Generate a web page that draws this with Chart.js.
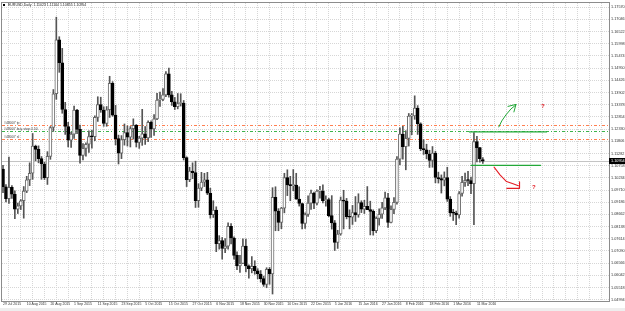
<!DOCTYPE html>
<html><head><meta charset="utf-8">
<script src="https://cdn.jsdelivr.net/npm/chart.js@4.4.0/dist/chart.umd.min.js"></script>
<style>html,body{margin:0;padding:0;background:#fff;overflow:hidden}#wrap{position:relative;width:625px;height:311px}</style>
</head><body><div id="wrap"><canvas id="c"></canvas></div>
<script>
// ---- data (EURUSD, Daily, 29 Jul 2015 .. 15 Mar 2016) ----
const symbolTitle = 'EURUSD,Daily';
const tickLabels = ['29 Jul 2015','10 Aug 2015','20 Aug 2015','1 Sep 2015','11 Sep 2015','23 Sep 2015','5 Oct 2015','15 Oct 2015','27 Oct 2015','6 Nov 2015','18 Nov 2015','30 Nov 2015','10 Dec 2015','22 Dec 2015','5 Jan 2016','15 Jan 2016','27 Jan 2016','8 Feb 2016','18 Feb 2016','1 Mar 2016','11 Mar 2016'];
const barsPerLabel = 8;
const priceTicks = [1.17570,1.17046,1.16522,1.15998,1.15474,1.14950,1.14426,1.13902,1.13378,1.12854,1.12330,1.11806,1.11282,1.10758,1.10234,1.09710,1.09186,1.08662,1.08138,1.07614,1.07090,1.06566,1.06042,1.05518,1.04994];

const open = [1.1061,1.0985,1.0934,1.0983,1.0953,1.0889,1.0903,1.0925,1.0966,1.1015,1.1043,1.1160,1.1146,1.1106,1.1083,1.1024,1.1116,1.1240,1.1385,1.1617,
1.1518,1.1317,1.1244,1.1185,1.1211,1.1315,1.1232,1.1120,1.1150,1.1168,1.1201,1.1200,1.1283,1.1338,1.1315,1.1257,1.1316,1.1430,1.1293,1.1192,
1.1130,1.1188,1.1218,1.1198,1.1235,1.1249,1.1176,1.1194,1.1213,1.1195,1.1262,1.1234,1.1277,1.1358,1.1360,1.1380,1.1470,1.1380,1.1350,1.1329,
1.1343,1.1345,1.1110,1.1016,1.1052,1.1046,1.0925,1.0979,1.1005,1.1015,1.0957,1.0865,1.0885,1.0740,1.0754,1.0720,1.0730,1.0815,1.0765,1.0690,
1.0645,1.0656,1.0730,1.0645,1.0633,1.0643,1.0624,1.0610,1.0590,1.0565,1.0630,1.0610,1.0940,1.0880,1.0832,1.0893,1.1025,1.0993,1.0990,1.0992,
1.0932,1.0913,1.0827,1.0866,1.0915,1.0958,1.0915,1.0966,1.0967,1.0925,1.0930,1.0861,1.0830,1.0746,1.0782,1.0928,1.0923,1.0857,1.0854,1.0874,
1.0864,1.0917,1.0889,1.0901,1.0887,1.0879,1.0796,1.0849,1.0867,1.0894,1.0937,1.0832,1.0888,1.0918,1.1104,1.1212,1.1157,1.1193,1.1289,1.1290,
1.1323,1.1256,1.1149,1.1144,1.1126,1.1098,1.1130,1.1025,1.1020,1.1013,1.1025,1.0932,1.0873,1.0872,1.0864,1.0956,1.1004,1.1013,1.1012,1.0998,
1.1179,1.1153,1.11023];
const high = [1.1077,1.0994,1.1113,1.0990,1.0968,1.0915,1.0930,1.0986,1.1030,1.1088,1.1214,1.1164,1.1161,1.1115,1.1090,1.1136,1.1244,1.1403,1.1714,1.1630,
1.1580,1.1348,1.1262,1.1220,1.1332,1.1318,1.1250,1.1171,1.1174,1.1226,1.1228,1.1290,1.1372,1.1370,1.1329,1.1330,1.1460,1.1437,1.1335,1.1207,
1.1205,1.1255,1.1247,1.1244,1.1277,1.1253,1.1202,1.1318,1.1244,1.1269,1.1269,1.1295,1.1387,1.1392,1.1407,1.1480,1.1495,1.1395,1.1369,1.1386,
1.1385,1.1356,1.1114,1.1069,1.1088,1.1095,1.0998,1.1047,1.1043,1.1047,1.0979,1.0925,1.0899,1.0775,1.0767,1.0762,1.0830,1.0827,1.0770,1.0705,
1.0690,1.0761,1.0760,1.0650,1.0685,1.0667,1.0633,1.0625,1.0601,1.0637,1.0638,1.0981,1.0985,1.0891,1.0897,1.1043,1.1058,1.1030,1.1059,1.1043,
1.0985,1.0915,1.0873,1.0946,1.0971,1.0962,1.0972,1.0987,1.0993,1.0946,1.0936,1.0947,1.0840,1.0798,1.0941,1.0970,1.0935,1.0886,1.0905,1.0943,
1.0955,1.0925,1.0927,1.0986,1.0923,1.0886,1.0856,1.0890,1.0918,1.0962,1.0957,1.0903,1.0939,1.1115,1.1238,1.1245,1.1226,1.1300,1.1300,1.1376,
1.1334,1.1260,1.1188,1.1168,1.1142,1.1158,1.1138,1.1048,1.1036,1.1049,1.1069,1.0943,1.0888,1.0880,1.0964,1.1030,1.1044,1.1051,1.1027,1.1218,
1.1202,1.1155,1.11104];
const low = [1.0960,1.0920,1.0914,1.0935,1.0848,1.0870,1.0887,1.0850,1.0960,1.0990,1.1017,1.1097,1.1088,1.1017,1.1016,1.0995,1.1103,1.1223,1.1361,1.1477,
1.1301,1.1210,1.1156,1.1154,1.1193,1.1213,1.1087,1.1100,1.1117,1.1133,1.1151,1.1183,1.1266,1.1305,1.1245,1.1245,1.1283,1.1288,1.1165,1.1083,
1.1106,1.1164,1.1160,1.1156,1.1190,1.1156,1.1150,1.1163,1.1167,1.1179,1.1197,1.1206,1.1273,1.1330,1.1355,1.1372,1.1370,1.1335,1.1317,1.1320,
1.1332,1.1100,1.0986,1.1007,1.1020,1.0896,1.0897,1.0968,1.0986,1.0951,1.0850,1.0853,1.0706,1.0717,1.0674,1.0702,1.0717,1.0739,1.0674,1.0629,
1.0617,1.0654,1.0619,1.0592,1.0615,1.0609,1.0589,1.0575,1.0557,1.0551,1.0566,1.0524,1.0796,1.0796,1.0805,1.0873,1.0947,1.0925,1.0968,1.0931,
1.0902,1.0804,1.0806,1.0858,1.0888,1.0891,1.0907,1.0936,1.0916,1.0902,1.0856,1.0803,1.0711,1.0720,1.0777,1.0804,1.0847,1.0804,1.0823,1.0836,
1.0854,1.0874,1.0870,1.0889,1.0778,1.0777,1.0788,1.0820,1.0849,1.0887,1.0810,1.0830,1.0869,1.0910,1.1080,1.1104,1.1058,1.1160,1.1209,1.1275,
1.1210,1.1140,1.1124,1.1105,1.1068,1.1069,1.1002,1.1001,1.0958,1.0989,1.0922,1.0858,1.0840,1.0822,1.0850,1.0945,1.0987,1.0990,1.0955,1.0822,
1.1092,1.1091,1.10855];
const close = [1.0985,1.0934,1.0983,1.0953,1.0889,1.0903,1.0925,1.0966,1.1015,1.1043,1.1160,1.1146,1.1106,1.1083,1.1024,1.1116,1.1240,1.1385,1.1617,1.1518,
1.1317,1.1244,1.1185,1.1211,1.1315,1.1232,1.1120,1.1150,1.1168,1.1201,1.1200,1.1283,1.1338,1.1315,1.1257,1.1316,1.1430,1.1293,1.1192,1.1130,
1.1188,1.1218,1.1198,1.1235,1.1249,1.1176,1.1194,1.1213,1.1195,1.1262,1.1234,1.1277,1.1358,1.1360,1.1380,1.1470,1.1380,1.1350,1.1329,1.1343,
1.1345,1.1110,1.1016,1.1052,1.1046,1.0925,1.0979,1.1005,1.1015,1.0957,1.0865,1.0885,1.0740,1.0754,1.0720,1.0730,1.0815,1.0765,1.0690,1.0645,
1.0656,1.0730,1.0645,1.0633,1.0643,1.0624,1.0610,1.0590,1.0565,1.0630,1.0610,1.0940,1.0880,1.0832,1.0893,1.1025,1.0993,1.0990,1.0992,1.0932,
1.0913,1.0827,1.0866,1.0915,1.0958,1.0915,1.0966,1.0967,1.0925,1.0930,1.0861,1.0830,1.0746,1.0782,1.0928,1.0923,1.0857,1.0854,1.0874,1.0864,
1.0917,1.0889,1.0901,1.0887,1.0879,1.0796,1.0849,1.0867,1.0894,1.0937,1.0832,1.0888,1.0918,1.1104,1.1212,1.1157,1.1193,1.1289,1.1290,1.1323,
1.1256,1.1149,1.1144,1.1126,1.1098,1.1130,1.1025,1.1020,1.1013,1.1025,1.0932,1.0873,1.0872,1.0864,1.0956,1.1004,1.1013,1.1012,1.0998,1.1179,
1.1153,1.1106,1.10954];

// trade order lines
const orderNames = ['#48007 tp', '#48007 buy stop 0.50', '#48007 sl'];
const orderPrices = [1.1250, 1.1225, 1.1191];
const orderColors = ['#ff7f50', '#3cb44b', '#ff7f50'];
// hand-drawn annotation (bar index / price)
const levelPrices = [1.1221, 1.1077];
const levelFrom = [157.5, 158];
const levelTo = [183.5, 181.5];
const greenArrowX = [167.4, 168.4, 169.8, 171.5, 173.2];
const greenArrowY = [1.12424, 1.12682, 1.12940, 1.13197, 1.13369];
const greenHeadX = [170.5, 173.2, 172.5];
const greenHeadY = [1.13305, 1.13391, 1.13068];
const redCurveX = [165.8, 167.8, 170.0, 172.2, 174.0];
const redCurveY = [1.10693, 1.10363, 1.10075, 1.09976, 1.09890];
const redHookX = [170.1, 174.4, 174.4];
const redHookY = [1.09783, 1.09783, 1.10062];
const questionX = [182.3, 179.2];
const questionY = [1.13326, 1.09847];

// ---- build ----
const n = close.length;
const bodies = [], wicks = [], bodyFill = [], bodyBorder = [];
for (let i = 0; i < n; i++) {
  bodies.push({x: i, y: [open[i], close[i]]});
  wicks.push({x: i, y: [low[i], high[i]]});
  const up = close[i] >= open[i];
  bodyFill.push(up ? '#ffffff' : '#000000');
  bodyBorder.push(up ? '#6a6a6a' : '#000000');
}
const FONT = 'Liberation Sans, Arial, sans-serif';

const overlay = {
  id: 'overlay',
  beforeDraw(chart) {
    const c = chart.ctx;
    c.save(); c.fillStyle = '#ffffff'; c.fillRect(0, 0, chart.width, chart.height);
    c.fillStyle = '#eeeeee'; c.fillRect(0, 308, chart.width, 3);
    c.restore();
  },
  beforeDatasetsDraw(chart) {
    const c = chart.ctx, a = chart.chartArea, ys = chart.scales.y;
    c.save();
    c.beginPath(); c.rect(a.left, a.top, a.right - a.left, a.bottom - a.top); c.clip();
    // bid line
    const by = Math.round(ys.getPixelForValue(close[n - 1])) + 0.5;
    c.strokeStyle = '#c4c4c4'; c.lineWidth = 1; c.setLineDash([]);
    c.beginPath(); c.moveTo(a.left, by); c.lineTo(a.right, by); c.stroke();
    // order lines (dash-dot)
    c.lineWidth = 1;
    c.setLineDash([3, 2, 1, 2]);
    orderPrices.forEach((p, k) => {
      const y = Math.round(ys.getPixelForValue(p)) + 0.5;
      c.strokeStyle = orderColors[k];
      c.beginPath(); c.moveTo(a.left, y); c.lineTo(a.right, y); c.stroke();
    });
    c.restore();
  },
  afterDraw(chart) {
    const c = chart.ctx, a = chart.chartArea, xs = chart.scales.x, ys = chart.scales.y;
    const X = v => xs.getPixelForValue(v), Y = v => ys.getPixelForValue(v);
    c.save();
    // frame
    c.strokeStyle = '#8c8c8c'; c.lineWidth = 1; c.setLineDash([]);
    c.strokeRect(Math.floor(a.left) - 0.5, Math.floor(a.top) - 0.5, Math.round(a.right - a.left) + 1, Math.round(a.bottom - a.top) + 1);
    // title
    c.fillStyle = '#000'; c.fillRect(3, 4, 2, 2);
    c.font = '3.5px ' + FONT; c.textBaseline = 'middle'; c.textAlign = 'left';
    c.fillStyle = '#222';
    const f = v => v.toFixed(5);
    c.fillText(symbolTitle + '  ' + f(open[n-1]) + ' ' + f(high[n-1]) + ' ' + f(low[n-1]) + ' ' + f(close[n-1]), 8, 5.5);
    // order labels
    c.textBaseline = 'alphabetic'; c.fillStyle = '#444';
    orderPrices.forEach((p, k) => c.fillText(orderNames[k], a.left + 2, Y(p) - 1));
    // current price box
    const by = Y(close[n - 1]);
    c.fillStyle = '#000'; c.fillRect(a.right, Math.round(by) - 3, chart.width - a.right, 6);
    c.fillStyle = '#fff'; c.font = '3.8px ' + FONT; c.textBaseline = 'middle';
    c.fillText(f(close[n - 1]), a.right + 2, Math.round(by));
    // annotations
    c.lineCap = 'round'; c.lineJoin = 'round';
    c.strokeStyle = 'rgb(34,168,56)'; c.lineWidth = 1.3;
    levelPrices.forEach((p, k) => {
      c.beginPath(); c.moveTo(X(levelFrom[k]), Y(p)); c.lineTo(X(levelTo[k]), Y(p)); c.stroke();
    });
    c.lineWidth = 1;
    const poly = (xa, ya) => { c.beginPath(); xa.forEach((v, k) => k ? c.lineTo(X(v), Y(ya[k])) : c.moveTo(X(v), Y(ya[k]))); c.stroke(); };
    poly(greenArrowX, greenArrowY);
    poly(greenHeadX, greenHeadY);
    c.strokeStyle = 'rgb(228,28,36)'; c.lineWidth = 1.1;
    poly(redCurveX, redCurveY);
    poly(redHookX, redHookY);
    c.fillStyle = 'rgb(228,28,36)'; c.font = 'bold 6px ' + FONT; c.textAlign = 'center'; c.textBaseline = 'middle';
    questionX.forEach((v, k) => c.fillText('?', X(v), Y(questionY[k])));
    c.restore();
  }
};

new Chart(document.getElementById('c'), {
  type: 'bar',
  data: {
    datasets: [
      {data: bodies, backgroundColor: bodyFill, borderColor: bodyBorder, borderWidth: 1, borderSkipped: false,
       barThickness: 3, minBarLength: 1, grouped: false, order: 0},
      {data: wicks, backgroundColor: '#555555', borderWidth: 0, barThickness: 1, grouped: false, order: 1}
    ]
  },
  options: {
    responsive: true, maintainAspectRatio: false, animation: false, devicePixelRatio: 1,
    layout: {padding: {left: 2, top: 3, right: 0, bottom: 0}},
    plugins: {legend: {display: false}, tooltip: {enabled: false}, title: {display: false}},
    scales: {
      x: {
        type: 'linear', min: -0.34, max: 204.6, offset: false,
        afterBuildTicks: s => { const t = []; for (let i = 0; i <= 204; i += barsPerLabel / 2) t.push({value: i}); s.ticks = t; },
        afterFit: s => { s.height = 10; s.paddingLeft = 0; s.paddingRight = 0; },
        ticks: {autoSkip: false, maxRotation: 0, minRotation: 0, align: 'start', padding: 1, color: '#333',
          font: {family: FONT, size: 3.5},
          callback: v => (v % barsPerLabel === 0 && v / barsPerLabel < tickLabels.length) ? tickLabels[v / barsPerLabel] : ''},
        grid: {color: '#d6d6d6', lineWidth: 1, drawTicks: false},
        border: {display: false, dash: [1, 1]}
      },
      y: {
        position: 'right', min: 1.0494, max: 1.1775,
        afterBuildTicks: s => { s.ticks = priceTicks.map(v => ({value: v})); },
        afterFit: s => { s.width = 16; s.paddingTop = 0; s.paddingBottom = 0; },
        ticks: {padding: 2, color: '#333', font: {family: FONT, size: 3.8}, callback: v => Number(v).toFixed(5)},
        grid: {color: '#d6d6d6', lineWidth: 1, drawTicks: false},
        border: {display: false, dash: [1, 1]}
      }
    }
  },
  plugins: [overlay]
});
</script></body></html>
